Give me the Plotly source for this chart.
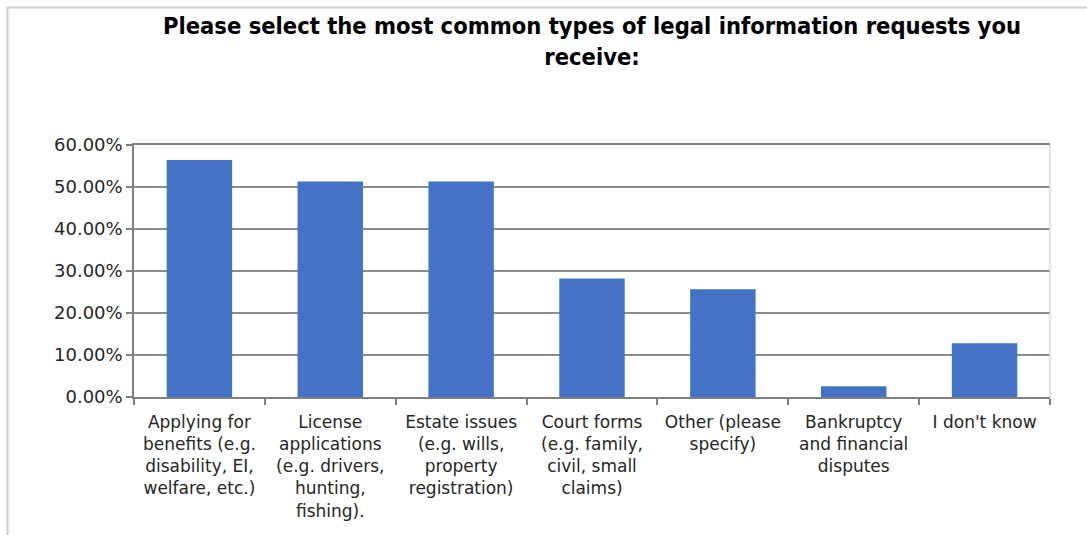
import plotly.graph_objects as go

# Survey responses: share of respondents selecting each request type
categories = [
    "Applying for<br>benefits (e.g.<br>disability, EI,<br>welfare, etc.)",
    "License<br>applications<br>(e.g. drivers,<br>hunting,<br>fishing).",
    "Estate issues<br>(e.g. wills,<br>property<br>registration)",
    "Court forms<br>(e.g. family,<br>civil, small<br>claims)",
    "Other (please<br>specify)",
    "Bankruptcy<br>and financial<br>disputes",
    "I don't know",
]
shares = [0.5641, 0.5128, 0.5128, 0.2821, 0.2564, 0.0256, 0.1282]
y_ticks = [0, 0.1, 0.2, 0.3, 0.4, 0.5, 0.6]

W, H = 1087, 535
ML, MR, MT, MB = 134, 37, 145, 138
pw, ph = W - ML - MR, H - MT - MB

def px_x(p):
    return (p - ML) / pw

def px_y(p):
    return (H - MB - p) / ph

fig = go.Figure(
    go.Bar(x=categories, y=shares, marker=dict(color="#4472C4", line=dict(width=0)))
)

fig.update_layout(
    width=W,
    height=H,
    margin=dict(l=ML, r=MR, t=MT, b=MB),
    paper_bgcolor="white",
    plot_bgcolor="white",
    bargap=0.5,
    showlegend=False,
    title=dict(
        text="<b>Please select the most common types of legal information requests you<br>receive:</b>",
        x=0.5,
        xref="paper",
        xanchor="center",
        y=1 - 34 / H,
        yanchor="middle",
        font=dict(family="Liberation Sans Narrow, DejaVu Sans Condensed, Arial", size=23.5, color="#000000"),
    ),
    font=dict(family="DejaVu Sans, Verdana", size=17, color="#262626"),
    shapes=[
        # outer chart frame
        dict(type="rect", xref="paper", yref="paper",
             x0=px_x(7.5), x1=px_x(W + 20), y0=px_y(H + 20), y1=px_y(7.5),
             line=dict(color="#d0d0d0", width=2), layer="below"),
        # plot-area right edge
        dict(type="line", xref="paper", yref="paper", x0=1, x1=1, y0=0, y1=1,
             line=dict(color="#d9d9d9", width=1.5)),
    ],
)

fig.update_xaxes(
    type="category",
    showline=True,
    mirror=True,
    linecolor="#7f7f7f",
    linewidth=1.5,
    ticks="outside",
    tickson="boundaries",
    ticklen=6,
    tickcolor="#7f7f7f",
    tickwidth=1.5,
    ticklabelstandoff=9,
    showgrid=False,
    tickfont=dict(family="DejaVu Sans, Verdana", size=17, color="#262626"),
)

fig.update_yaxes(
    range=[0, 0.6],
    tickvals=y_ticks,
    tickformat=".2%",
    showline=True,
    linecolor="#7f7f7f",
    linewidth=1.5,
    ticks="outside",
    ticklen=6,
    tickcolor="#7f7f7f",
    tickwidth=1.5,
    showgrid=True,
    gridcolor="#8c8c8c",
    gridwidth=1.5,
    zeroline=False,
    tickfont=dict(family="DejaVu Sans, Verdana", size=18, color="#262626"),
)

fig.write_html("out.html")
